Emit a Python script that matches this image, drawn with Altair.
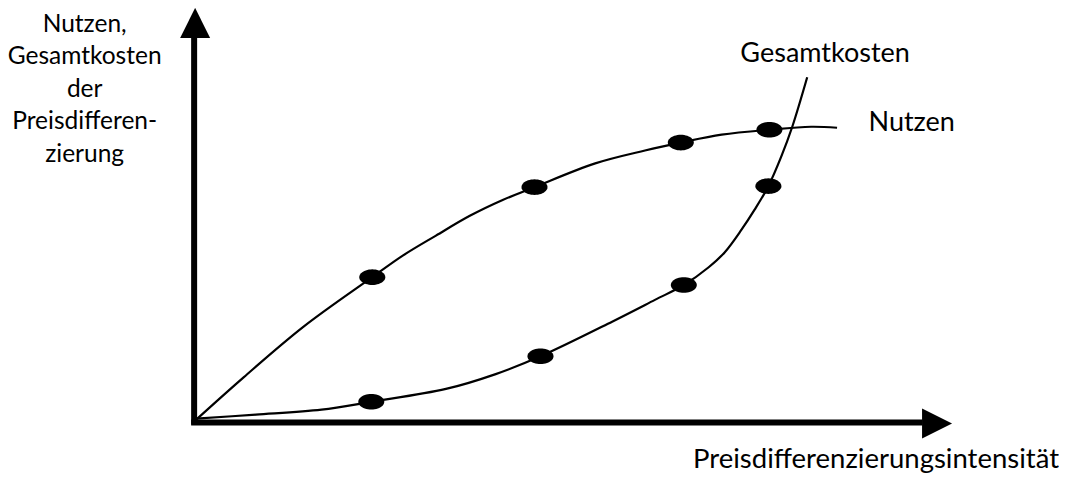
import altair as alt
import pandas as pd
import numpy as np

# ---- data (abstract units: intensity on x, value on y; origin = axis crossing) ----
nutzen_x = [1, 50, 110, 179, 210, 243, 277, 310, 342, 403, 453, 489, 530, 578, 620, 646]
nutzen_y = [1, 45, 96, 146, 168, 188, 208, 224, 237, 261, 274, 282, 290, 295, 298, 297]
kosten_x = [2, 62, 128, 178, 253, 303, 348, 420, 463, 492, 517, 533, 550, 563, 577, 590, 601, 616]
kosten_y = [3, 7, 12, 20, 33, 48, 66, 101, 123, 138, 156, 171, 194, 214, 238, 268, 298, 348]

nutzen_pts_x = [179, 342, 489, 578]
nutzen_pts_y = [146, 237, 282, 295]
kosten_pts_x = [178, 348, 492, 577]
kosten_pts_y = [20, 66, 138, 238]

y_title = "Nutzen,\nGesamtkosten\nder\nPreisdifferen-\nzierung"
x_title = "Preisdifferenzierungsintensität"
label_kosten = "Gesamtkosten"
label_nutzen = "Nutzen"

# ---- layout ----
W, H = 1051, 467
XDOM = [-182, 869]
YDOM = [-54, 413]
FONT = "Lato"

xs = alt.Scale(domain=XDOM, nice=False, zero=False)
ys = alt.Scale(domain=YDOM, nice=False, zero=False)


def X(f="x"):
    return alt.X(f"{f}:Q", scale=xs, axis=None)


def Y(f="y"):
    return alt.Y(f"{f}:Q", scale=ys, axis=None)


curves = pd.concat([
    pd.DataFrame({"x": nutzen_x, "y": nutzen_y, "s": "Nutzen"}),
    pd.DataFrame({"x": kosten_x, "y": kosten_y, "s": "Gesamtkosten"}),
])
pts = pd.DataFrame({"x": nutzen_pts_x + kosten_pts_x, "y": nutzen_pts_y + kosten_pts_y})

axes_df = pd.DataFrame({"x": [0, -3], "x2": [0, 732], "y": [-3, -1], "y2": [388, -1]})

t = np.linspace(0, 2 * np.pi, 48, endpoint=False)
ellipse = "M" + "L".join(f"{np.cos(a):.3f},{0.6 * np.sin(a):.3f}" for a in t) + "Z"

axis_lines = alt.Chart(axes_df).mark_rule(color="black", strokeWidth=6).encode(
    x=X(), x2="x2:Q", y=Y(), y2="y2:Q"
)
arrow_up = alt.Chart(pd.DataFrame({"x": [1], "y": [403]})).mark_point(
    shape="M0,-1L1,1L-1,1Z", filled=True, color="black", size=900, opacity=1, strokeWidth=0
).encode(x=X(), y=Y())
arrow_right = alt.Chart(pd.DataFrame({"x": [746.5], "y": [-2]})).mark_point(
    shape="M1,0L-1,-1L-1,1Z", filled=True, color="black", size=900, opacity=1, strokeWidth=0
).encode(x=X(), y=Y())

lines = alt.Chart(curves).mark_line(interpolate="catmull-rom", color="black", strokeWidth=2.2).encode(
    x=X(), y=Y(), detail="s:N", order="x:Q"
)
dots = alt.Chart(pts).mark_point(
    shape=ellipse, filled=True, color="black", size=676, opacity=1, strokeWidth=0
).encode(x=X(), y=Y())


def label(txt, x, y, fs, align="center", **kw):
    return alt.Chart(pd.DataFrame({"x": [x], "y": [y], "t": [txt]})).mark_text(
        font=FONT, fontSize=fs, color="black", align=align, baseline="alphabetic", **kw
    ).encode(x=X(), y=Y(), text="t:N")


texts = [
    label(y_title, -110, 394, 24.5, lineBreak="\n", lineHeight=32.5),
    label(label_kosten, 634, 363, 27),
    label(label_nutzen, 721, 294, 27),
    label(x_title, 869, -47, 27.5, align="right"),
]

chart = alt.layer(axis_lines, arrow_up, arrow_right, lines, dots, *texts).properties(
    width=W, height=H,
    autosize=alt.AutoSizeParams(type="fit", contains="padding"),
    padding=0, background="white",
).configure_view(stroke=None)

chart.save("out.html", embed_options={"renderer": "svg", "actions": False})
